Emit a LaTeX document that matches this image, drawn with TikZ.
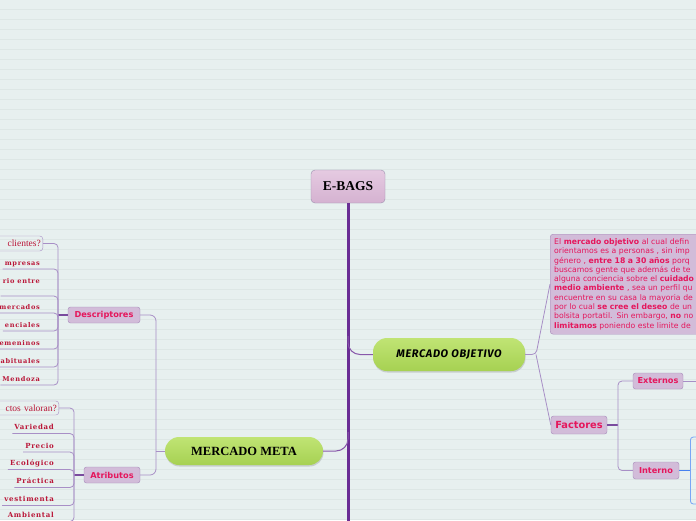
\documentclass[tikz,border=0pt]{standalone}
\usepackage{fontspec}
\setmainfont{DejaVu Sans}
\newfontfamily\itemfont{DejaVu Serif}[LetterSpace=10]
\newfontfamily\titlefont{Liberation Serif}
\newfontfamily\handfont{Fira Sans}[LetterSpace=6]
\usetikzlibrary{positioning,shadows}
\definecolor{bgcol}{RGB}{231,240,239}
\definecolor{bgline}{RGB}{221,231,229}
\definecolor{trunkcol}{RGB}{106,46,149}
\definecolor{joincol}{RGB}{122,75,158}
\definecolor{linkcol}{RGB}{168,143,198}
\definecolor{topicfill}{RGB}{210,188,217}
\definecolor{topicdraw}{RGB}{166,138,185}
\definecolor{topictext}{RGB}{229,22,92}
\definecolor{itemred}{RGB}{186,22,56}
\definecolor{greentop}{RGB}{192,228,116}
\definecolor{greenbot}{RGB}{166,209,82}
\definecolor{roottop}{RGB}{229,202,225}
\definecolor{rootbot}{RGB}{213,178,209}
\definecolor{rootdraw}{RGB}{156,143,174}
\definecolor{blueline}{RGB}{70,130,240}
\definecolor{bluebox}{RGB}{120,165,245}

\begin{document}
\begin{tikzpicture}[
  x=1pt, y=-1pt,
  root/.style={draw=rootdraw, rounded corners=4, top color=roottop, bottom color=rootbot,
    minimum width=74, minimum height=33, font=\titlefont\bfseries\fontsize{13.5}{15}\selectfont},
  mainTopic/.style={rounded corners=14, top color=greentop, bottom color=greenbot,
    drop shadow={shadow xshift=0.5pt, shadow yshift=-1.5pt, opacity=0.3}},
  subTopic/.style={draw=topicdraw, fill=topicfill, rounded corners=2.5, minimum height=16,
    inner sep=1.5, text=topictext, font=\bfseries\fontsize{8.2}{9}\selectfont},
  noteBox/.style={draw=topicdraw, fill=topicfill, rounded corners=3, text width=200,
    minimum height=100, inner sep=4, align=left, text=topictext, font=\fontsize{7.7}{9.3}\selectfont},
  itemText/.style={inner xsep=2, inner ysep=2, text height=5.5, text depth=1.5,
    text=itemred, font=\itemfont\bfseries\fontsize{7}{8}\selectfont},
  edgeItem/.style={itemText, font=\itemfont\bfseries\fontsize{6.6}{8}\selectfont},
  askBox/.style={draw=linkcol, rounded corners=3, text width=64, align=right, minimum height=15,
    inner sep=2, text=itemred, font=\titlefont\fontsize{9.5}{10}\selectfont},
  blueBox/.style={draw=bluebox, rounded corners=3, line width=0.8},
  bgLine/.style={bgline, line width=0.6},
  link/.style={linkcol, line width=0.8, rounded corners=4},
  joinLine/.style={joincol, line width=1.8},
  branch/.style={trunkcol, line width=3}
]
\useasboundingbox (0,0) rectangle (696,520);
\fill[bgcol] (0,0) rectangle (696,520);
\foreach \y in {9.5,19.5,...,519.5}
  \draw[bgLine] (0,\y) -- (696,\y);
\clip (0,0) rectangle (696,520);

% central topic and trunk
\node[root] (ebags) at (348,186.5) {E-BAGS};
\coordinate (trunkend) at (348,530);
\coordinate (t1) at (348,336);
\coordinate (t2) at (348,432);

\node[mainTopic, minimum width=152, minimum height=33,
  font=\handfont\bfseries\itshape\fontsize{11}{12}\selectfont] (mobj) at (449,354.5) {MERCADO OBJETIVO};
\node[mainTopic, minimum width=158, minimum height=28,
  font=\titlefont\bfseries\fontsize{12.5}{14}\selectfont] (mmeta) at (244,451) {MERCADO META};

% mercado meta
\coordinate (mj) at (156,451);
\node[subTopic, minimum width=72] (desc) at (104,315) {Descriptores};
\node[subTopic, minimum width=56] (atrib) at (112,475) {Atributos};
\coordinate (dj) at (58,315);
\coordinate (aj) at (74,475);

\node[askBox, anchor=east] (d1) at (43,243.5) {clientes?};
\node[edgeItem, anchor=south east] (d2) at (42,269) {mpresas};
\node[edgeItem, anchor=south east, text depth=10] (d3) at (42,296) {rio entre};
\node[edgeItem, anchor=south east] (d4) at (42,313) {mercados};
\node[edgeItem, anchor=south east] (d5) at (42,331) {enciales};
\node[edgeItem, anchor=south east] (d6) at (42,349) {emeninos};
\node[edgeItem, anchor=south east] (d7) at (42,367) {abituales};
\node[edgeItem, anchor=south east] (d8) at (42,385) {Mendoza};

\node[askBox, anchor=east, minimum height=14] (a1) at (59,408) {ctos valoran?};
\node[itemText, anchor=south east] (a2) at (56,433.5) {Variedad};
\node[itemText, anchor=south east] (a3) at (56,452) {Precio};
\node[itemText, anchor=south east] (a4) at (56,469.5) {Ecológico};
\node[itemText, anchor=south east] (a5) at (56,487.5) {Práctica};
\node[itemText, anchor=south east] (a6) at (56,505.5) {vestimenta};
\node[itemText, anchor=south east] (a7) at (56,521.5) {Ambiental};

% mercado objetivo
\coordinate (oj) at (536,354.5);
\node[noteBox, anchor=north west] (note) at (550,234) {El \textbf{mercado objetivo} al cual defin\\
orientamos es a personas , sin imp\\
género , \textbf{entre 18 a 30 años} porq\\
buscamos gente que además de te\\
alguna conciencia sobre el \textbf{cuidado}\\
\textbf{medio ambiente} , sea un perfil qu\\
encuentre en su casa la mayoria de\\
por lo cual \textbf{se cree el deseo} de un\\
bolsita portatil. Sin embargo, \textbf{no} no\\
\textbf{limitamos} poniendo este limite de};
\node[subTopic, minimum width=56, minimum height=18,
  font=\bfseries\fontsize{9.8}{11}\selectfont] (fact) at (579,425) {Factores};
\coordinate (fj) at (618,425);
\node[subTopic, minimum width=50] (ext) at (658,381) {Externos};
\node[subTopic, minimum width=46, minimum height=17] (intern) at (656,470.5) {Interno};
\coordinate (extend) at (700,381);
\node[blueBox, anchor=west, minimum width=40, minimum height=67] (inbox) at (690,470.5) {};

% connectors
\draw[branch] (ebags.south) -- (trunkend);
\draw[trunkcol!80, line width=1, rounded corners=12] (t1) |- (mobj.west);
\draw[trunkcol!80, line width=1, rounded corners=12] (t2) |- (mmeta.east);

\draw[link] (mmeta.west) -- (mj);
\draw[link, rounded corners=6] (mj) |- (desc.east);
\draw[link, rounded corners=6] (mj) |- (atrib.east);
\draw[joinLine] (desc.west) -- (dj);
\draw[joinLine] (atrib.west) -- (aj);

\draw[link] (dj) |- (d1.east);
\foreach \i in {2,...,8}
  \draw[link] (dj) |- (d\i.south east) -- (d\i.south west);
\draw[link] (aj) |- (a1.east);
\foreach \i in {2,...,7}
  \draw[link] (aj) |- (a\i.south east) -- (a\i.south west);

\draw[link] (mobj.east) -- (oj) -- (note.west);
\draw[link] (oj) -- (fact.west);
\draw[joinLine, line width=1.2] (fact.east) -- (fj);
\draw[link] (fj) |- (ext.west);
\draw[link] (fj) |- (intern.west);
\draw[link] (ext.east) -- (extend);
\draw[blueline, line width=1.2] (intern.east) -- (inbox.west);
\end{tikzpicture}
\end{document}
